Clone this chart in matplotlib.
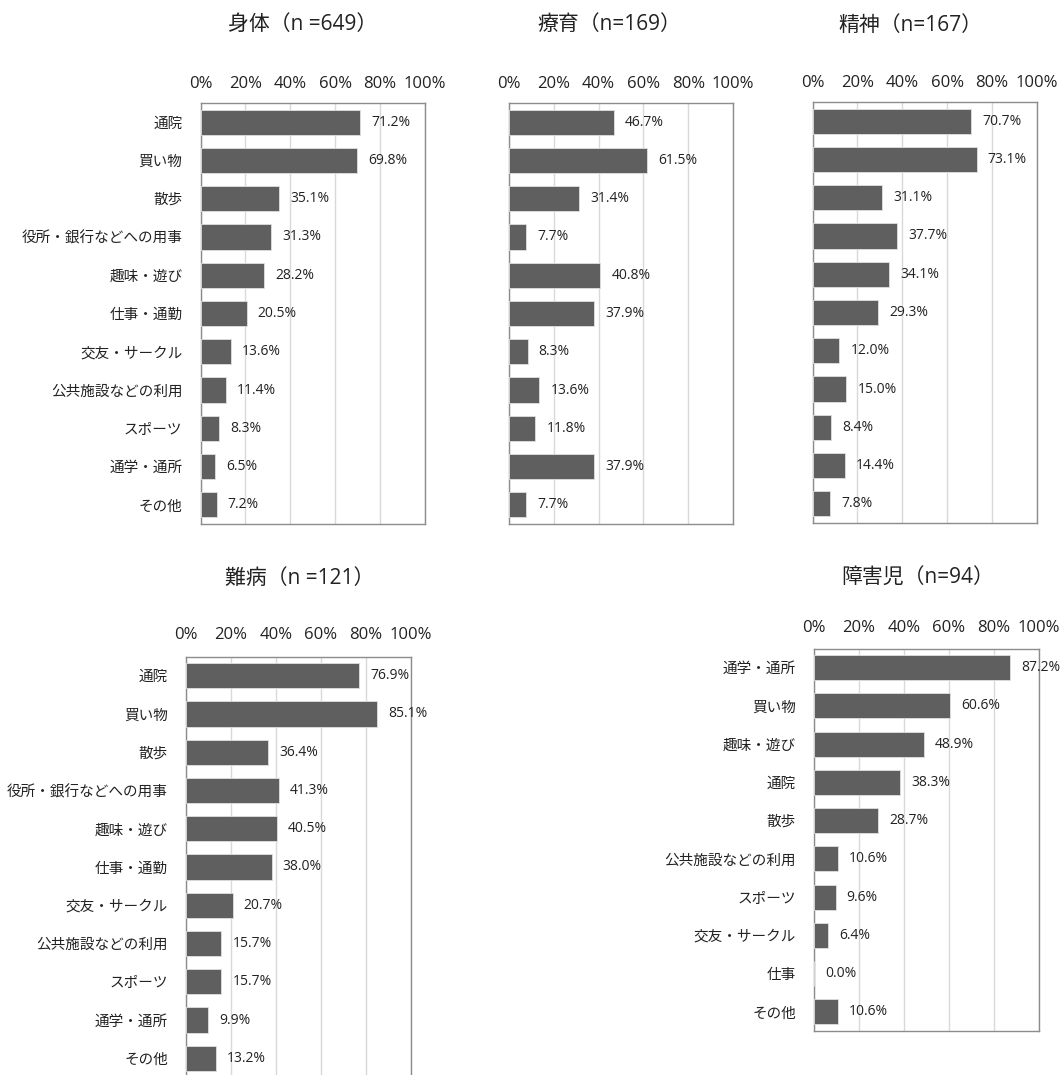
import matplotlib
matplotlib.use('Agg')
import matplotlib.pyplot as plt

plt.rcParams['font.family'] = ['Open Sans', 'Noto Sans CJK JP', 'DejaVu Sans']

W, H = 1064, 1075

# data
items = ['通院', '買い物', '散歩', '役所・銀行などへの用事', '趣味・遊び', '仕事・通勤',
         '交友・サークル', '公共施設などの利用', 'スポーツ', '通学・通所', 'その他']
shintai = [71.2, 69.8, 35.1, 31.3, 28.2, 20.5, 13.6, 11.4, 8.3, 6.5, 7.2]
ryoiku = [46.7, 61.5, 31.4, 7.7, 40.8, 37.9, 8.3, 13.6, 11.8, 37.9, 7.7]
seishin = [70.7, 73.1, 31.1, 37.7, 34.1, 29.3, 12.0, 15.0, 8.4, 14.4, 7.8]
nanbyo = [76.9, 85.1, 36.4, 41.3, 40.5, 38.0, 20.7, 15.7, 15.7, 9.9, 13.2]
child_items = ['通学・通所', '買い物', '趣味・遊び', '通院', '散歩', '公共施設などの利用',
               'スポーツ', '交友・サークル', '仕事', 'その他']
child = [87.2, 60.6, 48.9, 38.3, 28.7, 10.6, 9.6, 6.4, 0.0, 10.6]
ticks = [0, 20, 40, 60, 80, 100]
tick_labels = ['0%', '20%', '40%', '60%', '80%', '100%']

# (title, labels, values, show labels, left, right, top, bottom px, title x, title y, tick pad)
panels = [
    ('身体（n =649）', items, shintai, True, 200.5, 425, 103, 524, 303, 25, 8),
    ('療育（n=169）', items, ryoiku, False, 509, 733, 103, 524, 609, 25, 8),
    ('精神（n=167）', items, seishin, False, 812.5, 1037, 102, 523, 910, 25, 8),
    ('難病（n =121）', items, nanbyo, True, 186, 411, 656.5, 1077.5, 300, 578, 10),
    ('障害児（n=94）', child_items, child, True, 814, 1038.5, 648.5, 1031, 918, 578, 9),
]

fig = plt.figure(figsize=(W / 100, H / 100), dpi=100)

for title, labels, vals, show, l, r, t, b, tx, ty, pad in panels:
    ax = fig.add_axes([l / W, 1 - b / H, (r - l) / W, (b - t) / H])
    y = list(range(len(vals)))
    ax.barh(y, vals, height=0.66, color='#5f5f5f', edgecolor='#e0e0e0',
            linewidth=0.6, zorder=3)
    for yi, v in zip(y, vals):
        ax.annotate('{:.1f}%'.format(v), (v, yi), xytext=(8, 0),
                    textcoords='offset points', va='center', ha='left',
                    fontsize=10, color='#222222', zorder=5, annotation_clip=False)
    ax.set_xlim(0, 100)
    ax.set_ylim(len(vals) - 0.5, -0.5)
    ax.set_xticks(ticks)
    ax.set_xticklabels(tick_labels)
    ax.xaxis.tick_top()
    ax.tick_params(axis='x', length=0, pad=pad, labelsize=12, colors='#222222')
    ax.set_yticks(y)
    if show:
        ax.set_yticklabels(labels)
    else:
        ax.set_yticklabels([])
    ax.tick_params(axis='y', length=0, pad=13, labelsize=10.5, colors='#222222')
    ax.grid(axis='x', color='#d9d9d9', linewidth=1, zorder=0)
    for s in ax.spines.values():
        s.set_color('#8c8c8c')
        s.set_linewidth(1)
    fig.text(tx / W, 1 - ty / H, title, ha='center', va='center', fontsize=15,
             color='#222222')

fig.savefig('out.png', dpi=100)
